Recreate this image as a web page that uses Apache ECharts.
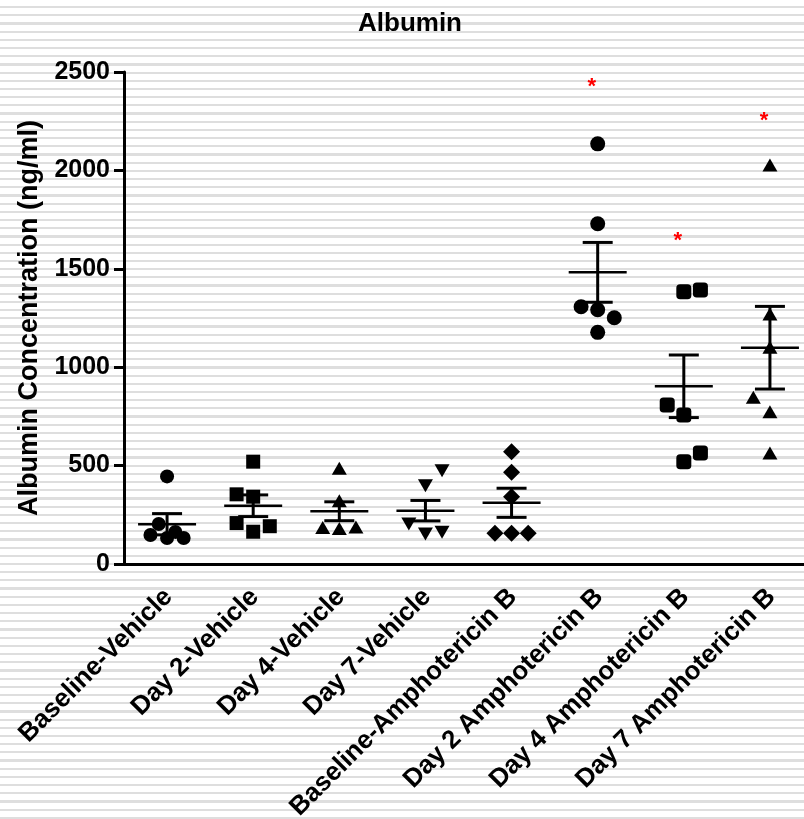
<!DOCTYPE html>
<html>
<head>
<meta charset="utf-8">
<title>Albumin</title>
<script src="https://cdn.jsdelivr.net/npm/echarts@6/dist/echarts.min.js"></script>
<style>
  html, body {
    margin: 0;
    padding: 0;
    background: repeating-linear-gradient(to bottom, #ffffff 0px, #ffffff 6px, #dedede 6px, #dedede 8.19px);
  }
  #chart { width: 804px; height: 819px; }
</style>
</head>
<body>
<div id="chart"></div>
<script>
const categories = [
  "Baseline-Vehicle", "Day 2-Vehicle", "Day 4-Vehicle", "Day 7-Vehicle",
  "Baseline-Amphotericin B", "Day 2 Amphotericin B", "Day 4 Amphotericin B", "Day 7 Amphotericin B"
];

// individual animal values per group
const baselineVehicle = [445, 203, 147, 132, 163, 132];
const day2Vehicle = [520, 354, 342, 208, 164, 192];
const day4Vehicle = [486, 322, 186, 180, 188];
const day7Vehicle = [474, 398, 203, 152, 161];
const baselineAmpho = [571, 466, 342, 156, 156, 156];
const day2Ampho = [2135, 1729, 1307, 1292, 1251, 1177];
const day4Ampho = [1383, 1392, 808, 757, 520, 564];
const day7Ampho = [2027, 1270, 1101, 847, 774, 564];

// side-by-side slot of each point (scatter dot plot spread), in half-symbol steps
const baselineVehicleSlot = [0, -1, -2, 0, 1, 2];
const day2VehicleSlot = [0, -2, 0, -2, 0, 2];
const day4VehicleSlot = [0, 0, -2, 0, 2];
const day7VehicleSlot = [2, 0, -2, 0, 2];
const baselineAmphoSlot = [0, 0, 0, -2, 0, 2];
const day2AmphoSlot = [0, 0, -2, 0, 2, 0];
const day4AmphoSlot = [0, 2, -2, 0, 0, 2];
const day7AmphoSlot = [0, 0, 0, -2, 0, 0];

// mean and SEM per group
const meanVals = [202, 296, 268, 271, 311, 1482, 903, 1099];
const semVals = [54, 55, 48, 52, 74, 152, 159, 210];

// significance stars (red asterisks)
const starGroups = [5, 6, 7];
const starVals = [2450, 1668, 2275];

const yTicks = { min: 0, max: 2500, interval: 500 };

const groups = [
  { vals: baselineVehicle, slots: baselineVehicleSlot, symbol: "circle", size: 14, rotate: 0 },
  { vals: day2Vehicle, slots: day2VehicleSlot, symbol: "rect", size: 14, rotate: 0 },
  { vals: day4Vehicle, slots: day4VehicleSlot, symbol: "triangle", size: [15, 13], rotate: 0 },
  { vals: day7Vehicle, slots: day7VehicleSlot, symbol: "triangle", size: [15, 13], rotate: 180 },
  { vals: baselineAmpho, slots: baselineAmphoSlot, symbol: "diamond", size: [17, 17], rotate: 0 },
  { vals: day2Ampho, slots: day2AmphoSlot, symbol: "circle", size: 15, rotate: 0 },
  { vals: day4Ampho, slots: day4AmphoSlot, symbol: "roundRect", size: 15, rotate: 0 },
  { vals: day7Ampho, slots: day7AmphoSlot, symbol: "triangle", size: [15, 13], rotate: 0 }
];

const FONT = "'Liberation Sans', Arial, sans-serif";
const step = 8.3;

const chart = echarts.init(document.getElementById("chart"), null, { renderer: "canvas" });

const scatterSeries = groups.map((g, gi) => ({
  type: "scatter",
  symbol: g.symbol,
  symbolSize: g.size,
  symbolRotate: g.rotate,
  itemStyle: { color: "#000", opacity: 1 },
  z: 2,
  data: g.vals.map((v, k) => ({
    value: [gi, v],
    symbolOffset: [g.slots[k] * step, 0]
  }))
}));

const errorSeries = {
  type: "custom",
  z: 5,
  data: meanVals.map((m, i) => [i, m, semVals[i]]),
  renderItem: function (params, api) {
    const i = api.value(0);
    const m = api.value(1);
    const s = api.value(2);
    const pm = api.coord([i, m]);
    const pt = api.coord([i, m + s]);
    const pb = api.coord([i, m - s]);
    const st = { stroke: "#000", lineWidth: 3 };
    return {
      type: "group",
      children: [
        { type: "line", shape: { x1: pm[0] - 29, y1: pm[1], x2: pm[0] + 29, y2: pm[1] }, style: { stroke: "#000", lineWidth: 2.5 } },
        { type: "line", shape: { x1: pt[0], y1: pt[1], x2: pb[0], y2: pb[1] }, style: st },
        { type: "line", shape: { x1: pt[0] - 15, y1: pt[1], x2: pt[0] + 15, y2: pt[1] }, style: st },
        { type: "line", shape: { x1: pb[0] - 15, y1: pb[1], x2: pb[0] + 15, y2: pb[1] }, style: st }
      ]
    };
  }
};

const starSeries = {
  type: "custom",
  z: 6,
  data: starGroups.map((g, k) => [g, starVals[k]]),
  renderItem: function (params, api) {
    const p = api.coord([api.value(0), api.value(1)]);
    return {
      type: "text",
      x: p[0] - 6,
      y: p[1] + 5,
      style: {
        text: "*",
        fill: "#ff0000",
        font: "bold 22px " + FONT,
        align: "center",
        verticalAlign: "middle"
      }
    };
  }
};

const option = {
  backgroundColor: "transparent",
  animation: false,
  title: {
    text: "Albumin",
    left: 353,
    top: 6,
    textStyle: { fontFamily: FONT, fontWeight: "bold", fontSize: 26, color: "#000" }
  },
  grid: { left: 124, right: -9, top: 72, bottom: 255, outerBoundsMode: "none" },
  xAxis: {
    type: "category",
    data: categories,
    boundaryGap: true,
    axisLine: { lineStyle: { color: "#000", width: 3 } },
    axisTick: { alignWithLabel: true, length: 8, lineStyle: { color: "#000", width: 3 } },
    axisLabel: {
      rotate: 45,
      interval: 0,
      margin: 12,
      verticalAlign: "top",
      padding: [0, 11, 0, 0],
      color: "#000",
      fontFamily: FONT,
      fontWeight: "bold",
      fontSize: 26
    },
    splitLine: { show: false }
  },
  yAxis: {
    type: "value",
    min: yTicks.min,
    max: yTicks.max,
    interval: yTicks.interval,
    name: "Albumin Concentration (ng/ml)",
    nameLocation: "middle",
    nameGap: 75,
    nameTextStyle: { fontFamily: FONT, fontWeight: "bold", fontSize: 27, color: "#000" },
    axisLine: { show: true, lineStyle: { color: "#000", width: 3 } },
    axisTick: { show: true, length: 10, lineStyle: { color: "#000", width: 3 } },
    axisLabel: {
      margin: 14,
      color: "#000",
      fontFamily: FONT,
      fontWeight: "bold",
      fontSize: 25,
      formatter: function (v) { return String(v); }
    },
    splitLine: { show: false }
  },
  series: [...scatterSeries, errorSeries, starSeries]
};

chart.setOption(option);
window.onresize = function () {
  chart.resize();
};
</script>
</body>
</html>
